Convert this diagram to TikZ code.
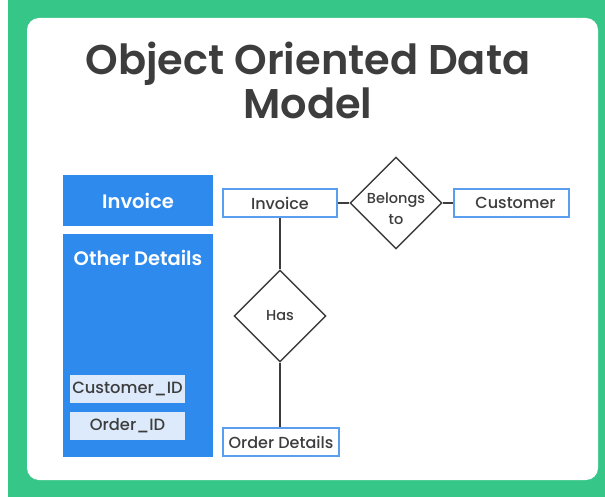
\documentclass[tikz,border=0pt]{standalone}
\usepackage{fontspec}
\setmainfont{Poppins}
\newfontfamily\medfont{Poppins Medium}
\newfontfamily\semifont{Poppins SemiBold}
\usetikzlibrary{shapes.geometric}
\definecolor{frame}{HTML}{36C687}
\definecolor{attrblue}{HTML}{2F8AEE}
\definecolor{idfill}{HTML}{DCEAFB}
\definecolor{entline}{HTML}{5A9EF0}
\definecolor{ink}{HTML}{3D3D3D}
\tikzset{
  header/.style={fill=attrblue, text=white, font=\semifont\fontsize{19.5}{22}\selectfont,
    minimum width=150pt, minimum height=51pt, inner sep=0pt},
  idbox/.style={fill=idfill, text=ink, font=\medfont\fontsize{16.3}{19}\selectfont,
    minimum width=115pt, minimum height=28pt, inner sep=0pt},
  entity/.style={draw=entline, line width=1.3pt, fill=white, text=ink,
    font=\medfont\fontsize{16}{19}\selectfont, minimum height=28pt, inner sep=0pt},
  relation/.style={diamond, aspect=1, draw=ink, line width=1.4pt, fill=white, text=ink,
    font=\medfont\fontsize{14.5}{21}\selectfont, align=center,
    minimum width=92pt, minimum height=92pt, inner sep=0pt},
  link/.style={draw=ink, line width=1.4pt}
}
\begin{document}
\begin{tikzpicture}[x=1pt,y=-1pt]
  % page and green frame
  \useasboundingbox (0,0) rectangle (605,497);
  \fill[white] (0,0) rectangle (605,497);
  \fill[frame] (8,0) rectangle (605,497);
  \fill[white, rounded corners=12pt] (27,18) rectangle (598,480);

  % title
  \node[text=ink, font=\semifont\fontsize{41.5}{44}\selectfont, align=center] (title) at (308,80)
    {Object Oriented Data\\Model};

  % object layout on the left
  \node[header] (invhead) at (138,200.5) {Invoice};
  \node[fill=attrblue, minimum width=150pt, minimum height=223pt, inner sep=0pt] (otherbox) at (138,345.5) {};
  \node[text=white, font=\semifont\fontsize{19.5}{22}\selectfont] (otherlbl) at (138,258) {Other Details};
  \node[idbox] (custid) at (127.5,389) {Customer\_ID};
  \node[idbox] (orderid) at (127.5,426) {Order\_ID};

  % entity-relationship part
  \node[entity, minimum width=114pt] (inv) at (280,203) {Invoice};
  \node[entity, minimum width=115pt] (cust) at (511.5,203) {\hspace{8pt}Customer};
  \node[entity, minimum width=116pt] (ord) at (281,442) {Order Details};
  \node[relation, label={[text=ink, font=\medfont\fontsize{14.5}{21}\selectfont, align=center, yshift=-6pt]center:Belongs\\to}] (belongs) at (396,203) {};
  \node[relation] (has) at (280,316) {Has};

  \draw[link] (inv) -- (belongs);
  \draw[link] (belongs) -- (cust);
  \draw[link] (inv) -- (has);
  \draw[link] (has.south) -- (has.south |- ord.north);
\end{tikzpicture}
\end{document}
